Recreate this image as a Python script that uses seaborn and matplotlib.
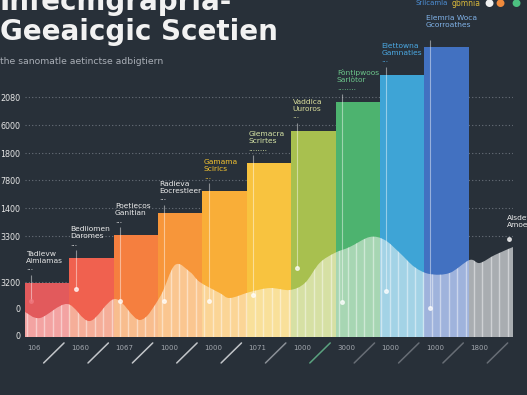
import numpy as np
import matplotlib
matplotlib.use("Agg")
import matplotlib.pyplot as plt
import matplotlib.transforms as mtransforms
from matplotlib.path import Path
from matplotlib.patches import PathPatch, Rectangle
import seaborn as sns

# --- data ---
bar_names = ["Tadlevw\nAimiamas", "Bediiomen\nDaromes", "Poetiecos\nGanitian",
             "Radieva\nEocrestleer", "Gamama\nScirics", "Glemacra\nScrirtes",
             "Vaddica\nUuroros", "Fòntipwoos\nSarlòtor", "Elettowna\nGamnaties",
             "Elemria Woca\nGcorroathes", "Alsdet\nAmoen"]
bar_values = [1930, 2820, 3640, 4430, 5210, 6210, 7360, 8390, 9360, 10360, 0]
x_labels = ["106", "1060", "1067", "1000", "1000", "1071", "1000", "3000", "1000", "1000", "1800"]

ytick_pos = [71, 1000, 1964, 3607, 4607, 5607, 6571, 7571, 8571]
ytick_labels = ["0", "0", "3200", "3300", "1400", "7800", "1800", "6000", "2080"]

# lower wave (category units, value units)
wave_x = [-0.5, -0.16, 0.45, 0.96, 1.53, 2.09, 2.54, 2.88, 3.22, 3.44, 3.89, 4.12,
          4.57, 5.02, 5.47, 5.81, 6.14, 6.48, 6.82, 7.27, 7.61, 7.95, 8.28, 8.62,
          9.07, 9.52, 9.75, 10.09, 10.5]
wave_y = [893, 679, 1179, 571, 1357, 607, 1429, 2571, 2321, 1964, 1571, 1393,
          1607, 1750, 1679, 1929, 2643, 3000, 3214, 3571, 3464, 3000, 2500, 2250,
          2286, 2750, 2643, 2929, 3214]

# where each label's leader line ends
leader_end = [1290, 1700, 1300, 1300, 1300, 1500, 2460, 1250, 1640, 1040, 3500]

bar_colors = ["#e25a5c", "#f0614f", "#f57f3f", "#f7963a", "#f9ae38", "#f8c33f",
              "#a8c04f", "#4db36f", "#3ea4d6", "#4271c1", "#9ea2a8"]
light_colors = ["#f3a3a2", "#f5ae99", "#f8bd8e", "#fac690", "#fbd596", "#f9e09a",
                "#d6e0a4", "#a7d6b3", "#a3d3e6", "#9fb3dc", "#a9adb1"]
label_colors = ["#e6e6e6", "#ececec", "#ececec", "#ececec", "#f2c230", "#d6e4a6",
                "#d8dc9a", "#6cc48a", "#4ba8e2", "#80b2e8", "#ececec"]
slash_colors = ["#c2c5c9"] * 5 + ["#8a8f96", "#5aa27f"] + ["#676d75"] * 4

bg = "#283039"


def smooth_path(xs, ys):
    # closed area under a smooth bezier through the wave points
    pts = np.column_stack([xs, ys]).astype(float)
    verts = [(xs[0], 0), tuple(pts[0])]
    codes = [Path.MOVETO, Path.LINETO]
    n = len(pts)
    for i in range(n - 1):
        p0, p1 = pts[max(i - 1, 0)], pts[i]
        p2, p3 = pts[i + 1], pts[min(i + 2, n - 1)]
        verts += [tuple(p1 + (p2 - p0) / 6), tuple(p2 - (p3 - p1) / 6), tuple(p2)]
        codes += [Path.CURVE4] * 3
    verts += [(xs[-1], 0), (xs[0], 0)]
    codes += [Path.LINETO, Path.CLOSEPOLY]
    return Path(verts, codes)


sns.set_style("dark")
plt.rcParams["font.family"] = ["DejaVu Sans"]

fig = plt.figure(figsize=(5.27, 3.95), dpi=100, facecolor=bg)
ax = fig.add_axes([25 / 527, 58 / 395, 488 / 527, 297 / 395])
ax.set_facecolor(bg)

sns.barplot(x=bar_names, y=bar_values, hue=bar_names, palette=bar_colors,
            width=1.0, saturation=1, legend=False, linewidth=0, ax=ax, zorder=2)

ax.set_xlim(-0.5, 10.5)
ax.set_ylim(0, 10607)
for s in ax.spines.values():
    s.set_visible(False)

ax.set_yticks(ytick_pos)
ax.set_yticklabels(ytick_labels)
ax.tick_params(axis="y", length=0, pad=3.5, labelsize=5.8, labelcolor="#e6e6e6")
ax.set_xticks([])
ax.set_xlabel("")
ax.set_ylabel("")
ax.yaxis.grid(True, color="#69707a", linestyle=(0, (1, 2)), linewidth=0.8)
ax.xaxis.grid(False)
ax.set_axisbelow(True)

# pastel wave under every bar
wave = smooth_path(wave_x, wave_y)
for i, lc in enumerate(light_colors):
    patch = PathPatch(wave, facecolor=lc, edgecolor="none", zorder=3)
    ax.add_patch(patch)
    patch.set_clip_path(Rectangle((i - 0.5, 0), 1, 12000, transform=ax.transData))

stripes = ax.vlines(np.arange(-0.45, 10.5, 0.19), 0, 11000, colors="white",
                    alpha=0.45, linewidth=1.0, zorder=4)
stripes.set_clip_path(PathPatch(wave, transform=ax.transData))

# labels above bars
for i, name in enumerate(bar_names):
    top = bar_values[i] if bar_values[i] > 0 else wave_y[-1]
    lx = i - 0.47 if bar_values[i] > 0 else 10.36
    col = label_colors[i]
    ax.annotate(name, (lx, top), xytext=(0, 13.5), textcoords="offset points",
                ha="left", va="bottom", fontsize=5.4, color=col, linespacing=1.2,
                annotation_clip=False, zorder=6)
    if i < 9:
        dots = "........" if i in (5, 7) else "..."
        ax.annotate(dots, (lx, top), xytext=(0, 9), textcoords="offset points",
                    ha="left", va="baseline", fontsize=5.4, color=col,
                    annotation_clip=False, zorder=6)
    px = i - 0.36 if bar_values[i] > 0 else 10.4
    start = top + 280 if i < 9 else top + 230
    ax.vlines(px, leader_end[i], start, colors="white", alpha=0.45,
              linewidth=0.8, zorder=5)
    ax.plot(px, leader_end[i], "o", ms=2.6,
            color="#f07a80" if i == 0 else "white", alpha=0.7, zorder=6)

# x labels with slanted marks
trans = mtransforms.blended_transform_factory(ax.transData, ax.transAxes)
for i, lbl in enumerate(x_labels):
    ax.text(i - 0.46, -0.037, lbl, transform=trans, ha="left", va="center",
            fontsize=5, color="#a2a7ae")
    ax.plot([i - 0.08, i + 0.38], [-0.0875, -0.02], transform=trans,
            clip_on=False, color=slash_colors[i], linewidth=1.1)

# title block
fig.text(0.0, 1 - 10 / 395, "Infecmgrapria-", ha="left", va="baseline",
         fontsize=20, fontweight="bold", color="#f2f2f2")
fig.text(0.0, 1 - 40 / 395, "Geeaicgic Scetien", ha="left", va="baseline",
         fontsize=20, fontweight="bold", color="#f2f2f2")
fig.text(0.0, 1 - 62 / 395, "the sanomatle aetinctse adbigtiern", ha="left",
         va="center", fontsize=6.7, color="#a9aeb6")

# legend strip, top right
fig.text(415 / 527, 1 - 3 / 395, "Sriicamla", ha="left", va="center",
         fontsize=5, color="#4d8fd6")
fig.text(452 / 527, 1 - 3 / 395, "gbmnia", ha="left", va="center",
         fontsize=5.5, color="#d9b83a")
for xpx, c in zip([489, 500, 516], ["#f0f0f0", "#f08a3c", "#4cc080"]):
    fig.text(xpx / 527, 1 - 3 / 395, "●", ha="center", va="center",
             fontsize=7.5, color=c)

fig.savefig("out.png", dpi=100, facecolor=bg)
